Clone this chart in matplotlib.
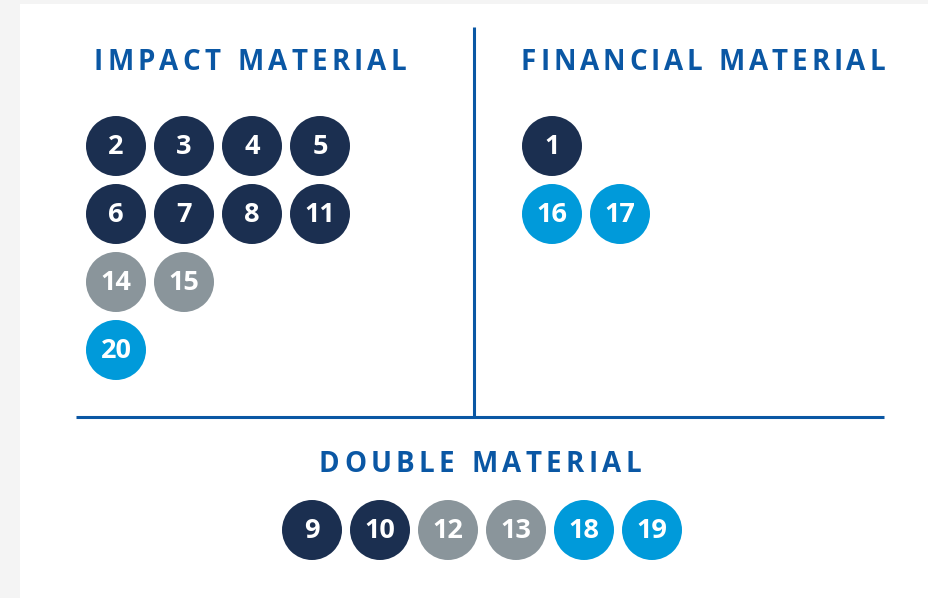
import matplotlib
matplotlib.use("Agg")
import matplotlib.pyplot as plt
from matplotlib.patches import Circle, Rectangle

# topic numbers per section, one list per row
IMPACT_ROWS = [[2, 3, 4, 5], [6, 7, 8, 11], [14, 15], [20]]
FINANCIAL_ROWS = [[1], [16, 17]]
DOUBLE_ROW = [9, 10, 12, 13, 18, 19]

# colour group of each topic
NAVY_TOPICS = [1, 2, 3, 4, 5, 6, 7, 8, 9, 10, 11]
GRAY_TOPICS = [12, 13, 14, 15]
BLUE_TOPICS = [16, 17, 18, 19, 20]

TITLES = ["IMPACT MATERIAL", "FINANCIAL MATERIAL", "DOUBLE MATERIAL"]

NAVY = "#1b2f50"
GRAY = "#8a959b"
BLUE = "#009ada"
TITLE_BLUE = "#0a57a4"
FONT = "Open Sans"

W, H = 929, 598
R = 30
STEP = 68


def topic_color(n):
    if n in NAVY_TOPICS:
        return NAVY
    if n in GRAY_TOPICS:
        return GRAY
    return BLUE


def draw_circles(ax, rows, x0, y0):
    for r, row in enumerate(rows):
        for c, n in enumerate(row):
            cx, cy = x0 + c * STEP, y0 + r * STEP
            ax.add_patch(Circle((cx, cy), R, color=topic_color(n), lw=0))
            ax.text(cx, cy + 1, str(n), color="white", fontsize=19.5,
                    fontweight="bold", family=FONT, ha="center", va="center")


def spaced_title(ax, fig, s, x_left, width, cy):
    # draw letter by letter so the title gets wide tracking
    r = fig.canvas.get_renderer()
    widths = []
    for ch in s:
        t = ax.text(0, 0, ch if ch != " " else "I", fontsize=20,
                    fontweight="bold", family=FONT)
        w = t.get_window_extent(renderer=r).width
        t.remove()
        widths.append(w if ch != " " else w * 0.9)
    track = (width - sum(widths)) / (len(s) - 1)
    x = x_left
    for ch, w in zip(s, widths):
        if ch != " ":
            ax.text(x, cy, ch, fontsize=20, fontweight="bold", family=FONT,
                    color=TITLE_BLUE, ha="left", va="center")
        x += w + track


fig = plt.figure(figsize=(W / 100, H / 100), dpi=100)
fig.patch.set_facecolor("#f4f4f4")
ax = fig.add_axes([0, 0, 1, 1])
ax.set_xlim(0, W)
ax.set_ylim(H, 0)
ax.axis("off")

# white panel
ax.add_patch(Rectangle((20, 4), W - 20, H - 4, color="white", lw=0))

# divider lines
ax.plot([474, 474], [27, 417], color=TITLE_BLUE, lw=2.2, solid_capstyle="butt")
ax.plot([76, 884], [417, 417], color=TITLE_BLUE, lw=2.2, solid_capstyle="butt")

spaced_title(ax, fig, TITLES[0], 94, 312, 63)
spaced_title(ax, fig, TITLES[1], 521, 364, 63)
spaced_title(ax, fig, TITLES[2], 319, 322, 464)

draw_circles(ax, IMPACT_ROWS, 116, 146)
draw_circles(ax, FINANCIAL_ROWS, 552, 146)
draw_circles(ax, [DOUBLE_ROW], 312, 530)

fig.savefig("out.png", dpi=100, facecolor=fig.get_facecolor())
